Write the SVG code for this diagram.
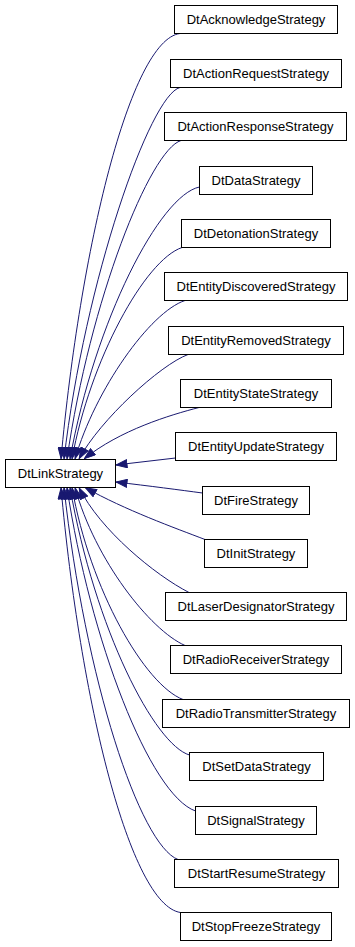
<svg xmlns="http://www.w3.org/2000/svg" width="355" height="947" viewBox="0 0 355 947">
<style>
.n rect{fill:#fff;stroke:#000;stroke-width:1}
.n text{font-family:"Liberation Sans",Arial,sans-serif;font-size:13px;fill:#000;text-anchor:middle}
.e path{fill:none;stroke:#191970;stroke-width:1;marker-end:url(#ah)}
</style>
<defs>
<marker id="ah" markerUnits="userSpaceOnUse" viewBox="0 0 12 9" refX="12" refY="4.5" markerWidth="12" markerHeight="9" orient="auto">
<path d="M0.5,0.5 L11.5,4.5 L0.5,8.5 z" fill="#191970" stroke="#191970" stroke-width="1"/>
</marker>
</defs>
<rect width="355" height="947" fill="#fff"/>
<g id="edges" class="e">
<path d="M180,33.5 C130,40 80,250 61,459"/>
<path d="M180,87.5 C150,95 85,280 64,459"/>
<path d="M181,140.5 C150,150 90,300 67,459"/>
<path d="M199.5,187 C160,195 95,320 70,459"/>
<path d="M182,247.5 C145,260 90,360 72,459"/>
<path d="M185,300.5 C150,312 95,390 75,459"/>
<path d="M188,354.5 C160,365 100,420 79,459"/>
<path d="M199,407.5 C170,415 120,430 84,459"/>
<path d="M175.5,458 L115.5,465"/>
<path d="M202.5,493 C180,490 150,486 115.5,482"/>
<path d="M205,539.5 C175,528 125,510 85,487.5"/>
<path d="M189,592.5 C155,575 100,530 79,487.5"/>
<path d="M185,645.5 C150,630 95,560 75,487.5"/>
<path d="M183,699.5 C145,685 90,590 72,487.5"/>
<path d="M189.5,755 C155,745 95,630 70,487.5"/>
<path d="M195.5,811 C150,795 90,640 67,487.5"/>
<path d="M178,859.5 C140,845 85,680 64,487.5"/>
<path d="M180.5,912.5 C130,905 80,700 61,487.5"/>
</g>
<g id="DtLinkStrategy" class="n"><rect x="5.5" y="459.5" width="110" height="28"/><text x="60.5" y="478">DtLinkStrategy</text></g>
<g id="DtAcknowledgeStrategy" class="n"><rect x="174.5" y="5.5" width="163" height="28"/><text x="256" y="24">DtAcknowledgeStrategy</text></g>
<g id="DtActionRequestStrategy" class="n"><rect x="170.5" y="59.5" width="171" height="28"/><text x="256" y="78">DtActionRequestStrategy</text></g>
<g id="DtActionResponseStrategy" class="n"><rect x="164.5" y="112.5" width="182" height="28"/><text x="255.5" y="131">DtActionResponseStrategy</text></g>
<g id="DtDataStrategy" class="n"><rect x="199.5" y="166.5" width="113" height="28"/><text x="256" y="185">DtDataStrategy</text></g>
<g id="DtDetonationStrategy" class="n"><rect x="181.5" y="219.5" width="149" height="28"/><text x="256" y="238">DtDetonationStrategy</text></g>
<g id="DtEntityDiscoveredStrategy" class="n"><rect x="164.5" y="272.5" width="183" height="28"/><text x="256" y="291">DtEntityDiscoveredStrategy</text></g>
<g id="DtEntityRemovedStrategy" class="n"><rect x="168.5" y="326.5" width="175" height="28"/><text x="256" y="345">DtEntityRemovedStrategy</text></g>
<g id="DtEntityStateStrategy" class="n"><rect x="180.5" y="379.5" width="151" height="28"/><text x="256" y="398">DtEntityStateStrategy</text></g>
<g id="DtEntityUpdateStrategy" class="n"><rect x="175.5" y="432.5" width="161" height="28"/><text x="256" y="451">DtEntityUpdateStrategy</text></g>
<g id="DtFireStrategy" class="n"><rect x="202.5" y="486.5" width="107" height="28"/><text x="256" y="505">DtFireStrategy</text></g>
<g id="DtInitStrategy" class="n"><rect x="204.5" y="539.5" width="103" height="28"/><text x="256" y="558">DtInitStrategy</text></g>
<g id="DtLaserDesignatorStrategy" class="n"><rect x="165.5" y="592.5" width="181" height="28"/><text x="256" y="611">DtLaserDesignatorStrategy</text></g>
<g id="DtRadioReceiverStrategy" class="n"><rect x="170.5" y="645.5" width="171" height="28"/><text x="256" y="664">DtRadioReceiverStrategy</text></g>
<g id="DtRadioTransmitterStrategy" class="n"><rect x="162.5" y="699.5" width="187" height="28"/><text x="256" y="718">DtRadioTransmitterStrategy</text></g>
<g id="DtSetDataStrategy" class="n"><rect x="189.5" y="752.5" width="134" height="28"/><text x="256.5" y="771">DtSetDataStrategy</text></g>
<g id="DtSignalStrategy" class="n"><rect x="195.5" y="806.5" width="121" height="28"/><text x="256" y="825">DtSignalStrategy</text></g>
<g id="DtStartResumeStrategy" class="n"><rect x="174.5" y="859.5" width="164" height="28"/><text x="256.5" y="878">DtStartResumeStrategy</text></g>
<g id="DtStopFreezeStrategy" class="n"><rect x="180.5" y="912.5" width="151" height="28"/><text x="256" y="931">DtStopFreezeStrategy</text></g>
</svg>
